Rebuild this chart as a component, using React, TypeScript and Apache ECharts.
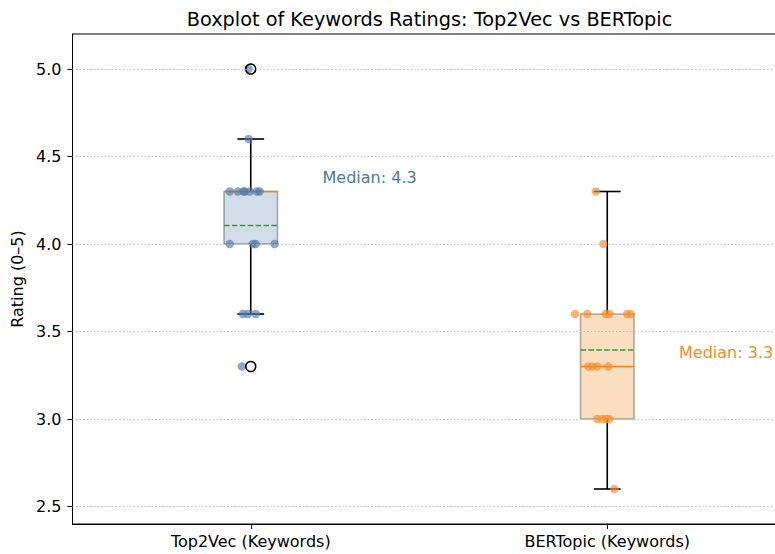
import React, { useEffect, useRef } from "react";
import * as echarts from "echarts";

const categories = ["Top2Vec (Keywords)", "BERTopic (Keywords)"];
const positions = [1, 2];
const seriesColors = ["#4e79a7", "#f28e2b"];
const boxFills = ["rgba(78,121,167,0.25)", "rgba(242,142,43,0.3)"];

const top2vecRatings = [5.0, 4.6, 4.3, 4.3, 4.3, 4.3, 4.3, 4.3, 4.3, 4.0, 4.0, 4.0, 4.0, 3.6, 3.6, 3.6, 3.3];
const top2vecJitter = [-0.006, -0.006, -0.059, -0.036, -0.02, -0.003, 0.017, 0.025, -0.017, -0.059, 0.006, 0.014, 0.067, -0.022, -0.008, 0.014, -0.025];

const bertopicRatings = [4.3, 4.0, 3.6, 3.6, 3.6, 3.6, 3.6, 3.6, 3.3, 3.3, 3.3, 3.3, 3.0, 3.0, 3.0, 3.0, 2.6];
const bertopicJitter = [-0.032, -0.011, -0.09, -0.056, -0.004, 0.006, 0.056, 0.066, -0.053, -0.042, -0.028, 0.003, -0.028, -0.014, -0.003, 0.006, 0.02];

const yTicks = [2.5, 3.0, 3.5, 4.0, 4.5, 5.0];

const FONT = '"DejaVu Sans", "Liberation Sans", sans-serif';
const TICK_FS = 16;
const TITLE_FS = 19.3;

function quantile(sorted: number[], p: number) {
  const idx = p * (sorted.length - 1);
  const lo = Math.floor(idx);
  const hi = Math.ceil(idx);
  return sorted[lo] + (sorted[hi] - sorted[lo]) * (idx - lo);
}

function boxStats(values: number[]) {
  const s = [...values].sort((a, b) => a - b);
  const q1 = quantile(s, 0.25);
  const med = quantile(s, 0.5);
  const q3 = quantile(s, 0.75);
  const iqr = q3 - q1;
  const upLim = q3 + 1.5 * iqr + 1e-9;
  const loLim = q1 - 1.5 * iqr - 1e-9;
  const inside = s.filter((v) => v >= loLim && v <= upLim);
  const lo = Math.min(...inside);
  const hi = Math.max(...inside);
  const fliers = s.filter((v) => v < loLim || v > upLim);
  const mean = s.reduce((a, b) => a + b, 0) / s.length;
  return { q1, med, q3, lo, hi, fliers, mean };
}

export default function App() {
  const ref = useRef<HTMLDivElement>(null);
  useEffect(() => {
    if (!ref.current) return;
    const chart = echarts.init(ref.current, null, { renderer: "svg" });
    const groups = [
      { ratings: top2vecRatings, jitter: top2vecJitter },
      { ratings: bertopicRatings, jitter: bertopicJitter },
    ];
    const stats = groups.map((g) => boxStats(g.ratings));
    const boxData = stats.map((st, i) => [positions[i], st.q1, st.med, st.q3, st.lo, st.hi, st.mean, i]);

    const pointSeries = groups.map((g, i) => ({
      type: "scatter",
      z: 3,
      symbol: "circle",
      symbolSize: 8.5,
      silent: true,
      itemStyle: { color: seriesColors[i], opacity: 0.65 },
      data: g.ratings.map((v, k) => [positions[i] + g.jitter[k], v]),
    }));

    const flierData: number[][] = [];
    stats.forEach((st, i) => st.fliers.forEach((v) => flierData.push([positions[i], v])));

    const labelSeries = stats.map((st, i) => ({
      type: "scatter",
      z: 5,
      symbolSize: 1,
      silent: true,
      itemStyle: { color: "rgba(0,0,0,0)", opacity: 1 },
      label: {
        show: true,
        position: "right",
        distance: 0,
        formatter: `Median: ${st.med.toFixed(1)}`,
        color: seriesColors[i],
        opacity: 1,
        fontFamily: FONT,
        fontSize: TICK_FS,
      },
      labelLayout: { hideOverlap: false },
      data: [[positions[i] + 0.2, st.med + 0.08]],
    }));

    const option: any = {
      animation: false,
      backgroundColor: "#ffffff",
      graphic: [
        {
          type: "text",
          x: 429.5,
          y: 19,
          style: {
            text: "Boxplot of Keywords Ratings: Top2Vec vs BERTopic",
            fontFamily: FONT,
            fontSize: TITLE_FS,
            fill: "#000",
            align: "center",
            verticalAlign: "middle",
          },
        },
      ],
      grid: {
        left: 72.5,
        top: 34,
        right: 1.5,
        bottom: 30,
        show: true,
        borderColor: "#000",
        borderWidth: 1,
        backgroundColor: "transparent",
      },
      xAxis: {
        type: "value",
        min: 0.5,
        max: 2.5,
        splitLine: { show: false },
        axisLine: { show: true, lineStyle: { color: "#000", width: 1 } },
        axisTick: { show: true, length: 5, customValues: positions, lineStyle: { color: "#000" } },
        axisLabel: {
          customValues: positions,
          formatter: (v: number) => categories[Math.round(v) - 1] ?? "",
          color: "#000",
          fontFamily: FONT,
          fontSize: TICK_FS,
          margin: 9,
        },
      },
      yAxis: {
        type: "value",
        min: 2.4,
        max: 5.2,
        name: "Rating (0–5)",
        nameLocation: "middle",
        nameGap: 39,
        nameRotate: 90,
        nameTextStyle: { color: "#000", fontFamily: FONT, fontSize: TICK_FS },
        splitLine: { show: false },
        axisLine: { show: true, lineStyle: { color: "#000", width: 1 } },
        axisTick: { show: true, length: 5, customValues: yTicks, lineStyle: { color: "#000" } },
        axisLabel: {
          customValues: yTicks,
          formatter: (v: number) => v.toFixed(1),
          color: "#000",
          fontFamily: FONT,
          fontSize: TICK_FS,
          margin: 11,
        },
      },
      series: [
        {
          type: "line",
          z: 0,
          data: [],
          markLine: {
            silent: true,
            symbol: ["none", "none"],
            label: { show: false },
            lineStyle: { color: "#b8b8b8", type: [1.2, 2.4], width: 1 },
            data: yTicks.map((v) => ({ yAxis: v })),
          },
        },
        {
          type: "custom",
          z: 2,
          silent: true,
          encode: { x: 0, y: [1, 2, 3, 4, 5] },
          data: boxData,
          renderItem: (params: any, api: any) => {
            const pos = api.value(0);
            const q1 = api.value(1);
            const med = api.value(2);
            const q3 = api.value(3);
            const lo = api.value(4);
            const hi = api.value(5);
            const mean = api.value(6);
            const idx = api.value(7);
            const [xl, yq3] = api.coord([pos - 0.075, q3]);
            const [xr, yq1] = api.coord([pos + 0.075, q1]);
            const [cx, ymed] = api.coord([pos, med]);
            const [, ylo] = api.coord([pos, lo]);
            const [, yhi] = api.coord([pos, hi]);
            const [, ymean] = api.coord([pos, mean]);
            const [cl] = api.coord([pos - 0.0375, lo]);
            const [cr] = api.coord([pos + 0.0375, lo]);
            const black = { stroke: "#000", lineWidth: 1.6 };
            return {
              type: "group",
              children: [
                { type: "line", shape: { x1: cx, y1: yq3, x2: cx, y2: yhi }, style: black },
                { type: "line", shape: { x1: cx, y1: yq1, x2: cx, y2: ylo }, style: black },
                { type: "line", shape: { x1: cl, y1: yhi, x2: cr, y2: yhi }, style: black },
                { type: "line", shape: { x1: cl, y1: ylo, x2: cr, y2: ylo }, style: black },
                {
                  type: "rect",
                  shape: { x: xl, y: yq3, width: xr - xl, height: yq1 - yq3 },
                  style: { fill: boxFills[idx], stroke: "rgba(0,0,0,0.3)", lineWidth: 1.6 },
                },
                {
                  type: "line",
                  shape: { x1: xl, y1: ymean, x2: xr, y2: ymean },
                  style: { stroke: "#2ca02c", lineWidth: 1.6, lineDash: [5.5, 2.4] },
                },
                {
                  type: "line",
                  shape: { x1: xl, y1: ymed, x2: xr, y2: ymed },
                  style: { stroke: "#ff7f0e", lineWidth: 1.6 },
                },
              ],
            };
          },
        },
        ...pointSeries,
        {
          type: "scatter",
          z: 4,
          symbol: "circle",
          symbolSize: 10,
          silent: true,
          itemStyle: { color: "rgba(0,0,0,0)", borderColor: "#000", borderWidth: 1.6, opacity: 1 },
          data: flierData,
        },
        ...labelSeries,
      ],
    };
    chart.setOption(option);
    return () => chart.dispose();
  }, []);
  return (
    <div style={{ width: 775, height: 554, position: "absolute", left: 0, top: 0, overflow: "hidden" }}>
      <div ref={ref} style={{ width: 787, height: 554 }} />
    </div>
  );
}
